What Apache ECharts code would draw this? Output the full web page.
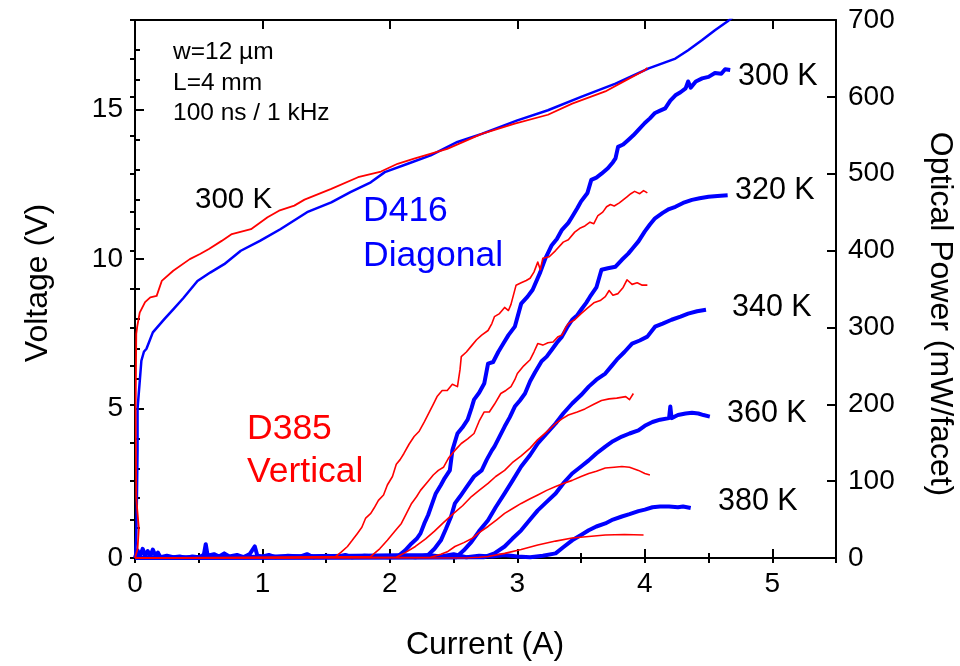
<!DOCTYPE html>
<html>
<head>
<meta charset="utf-8">
<script src="https://cdn.jsdelivr.net/npm/echarts@6/dist/echarts.min.js"></script>
<style>
  html, body { margin: 0; padding: 0; background: #fff; }
  #chart { width: 960px; height: 666px; }
</style>
</head>
<body>
<div id="chart"></div>
<script>
// Tick labels
const currentTickLabels = [0, 1, 2, 3, 4, 5];
const voltageTickLabels = [0, 5, 10, 15];
const powerTickLabels = [0, 100, 200, 300, 400, 500, 600, 700];

// Voltage–current at 300 K  [current (A), voltage (V)]
const d385Voltage = [
  [0, 0], [0.02, 0.3], [0.03, 1.0], [0.01, 2.0], [0.005, 5.0], [0.01, 7.5], [0.018, 7.76],
  [0.037, 8.21], [0.079, 8.56], [0.12, 8.72], [0.17, 8.77], [0.21, 9.27], [0.30, 9.61],
  [0.43, 10.0], [0.51, 10.17], [0.58, 10.34], [0.68, 10.61], [0.76, 10.84], [0.91, 11.0],
  [1.04, 11.4], [1.13, 11.62], [1.25, 11.79], [1.33, 11.99], [1.54, 12.35], [1.75, 12.74],
  [1.93, 12.93], [2.06, 13.19], [2.19, 13.36], [2.45, 13.69], [2.72, 14.19], [2.98, 14.53],
  [3.24, 14.83], [3.43, 15.2], [3.69, 15.61], [3.85, 15.98], [4.0, 16.32], [4.02, 16.4]
];
const d416Voltage = [
  [0, 0], [0.01, 0.8], [0.015, 2.0], [0.02, 3.6], [0.02, 5.0], [0.037, 5.9], [0.05, 6.6],
  [0.07, 6.9], [0.09, 7.0], [0.14, 7.55], [0.23, 7.99], [0.30, 8.32], [0.38, 8.7],
  [0.49, 9.27], [0.59, 9.55], [0.70, 9.83], [0.83, 10.28], [0.98, 10.61], [1.14, 11.0],
  [1.35, 11.57], [1.54, 11.9], [1.69, 12.24], [1.85, 12.57], [1.96, 12.91], [2.14, 13.19],
  [2.32, 13.47], [2.53, 13.92], [2.72, 14.19], [3.0, 14.64], [3.24, 14.98], [3.50, 15.43],
  [3.77, 15.87], [4.03, 16.38], [4.24, 16.71], [4.34, 16.99], [4.45, 17.33], [4.55, 17.66],
  [4.65, 17.96], [4.72, 18.2]
];

// Optical power, D416 diagonal  [current (A), power (mW/facet)]
const d416Power300K = [
  [0, 0], [0.02, 10], [0.04, 2], [0.06, 12], [0.08, 3], [0.10, 9], [0.12, 2], [0.14, 11],
  [0.16, 3], [0.18, 7], [0.20, 1], [0.25, 3], [0.30, 1], [0.35, 2], [0.40, 0], [0.45, 2],
  [0.50, 1], [0.54, 4], [0.555, 18], [0.57, 3], [0.62, 5], [0.66, 2], [0.70, 6], [0.74, 2],
  [0.80, 4], [0.85, 1], [0.90, 5], [0.94, 15], [0.96, 3], [1.0, 2], [1.05, 4], [1.1, 1],
  [1.2, 3], [1.3, 2], [1.35, 5], [1.4, 1], [1.5, 3], [1.6, 2], [1.65, 4], [1.7, 1], [1.8, 3],
  [1.9, 2], [2.0, 1], [2.06, 2], [2.12, 10], [2.17, 19], [2.21, 25], [2.24, 32], [2.27, 45],
  [2.30, 56], [2.33, 70], [2.36, 84], [2.40, 95], [2.43, 104], [2.47, 114], [2.49, 140],
  [2.53, 162], [2.57, 170], [2.61, 180], [2.64, 195], [2.66, 206], [2.70, 215], [2.74, 227],
  [2.77, 253], [2.81, 255], [2.85, 268], [2.89, 279], [2.93, 290], [2.98, 301], [3.03, 331],
  [3.08, 340], [3.12, 349], [3.18, 372], [3.22, 390], [3.27, 407], [3.31, 415], [3.35, 427],
  [3.40, 436], [3.43, 444], [3.47, 455], [3.50, 464], [3.55, 475], [3.58, 492], [3.62, 495],
  [3.66, 500], [3.71, 507], [3.75, 515], [3.77, 520], [3.79, 535], [3.83, 538], [3.87, 544],
  [3.91, 550], [3.95, 557], [4.00, 566], [4.04, 572], [4.08, 579], [4.12, 582], [4.16, 585],
  [4.20, 595], [4.24, 602], [4.28, 606], [4.32, 611], [4.34, 620], [4.36, 612], [4.40, 620],
  [4.45, 624], [4.50, 626], [4.55, 631], [4.60, 630], [4.63, 636], [4.67, 635]
];
const d416Power320K = [
  [0, 0], [2.30, 4], [2.35, 12], [2.40, 23], [2.44, 38], [2.48, 54], [2.51, 71], [2.55, 80],
  [2.60, 92], [2.66, 106], [2.72, 114], [2.76, 128], [2.80, 140], [2.82, 145], [2.86, 158],
  [2.90, 171], [2.94, 183], [2.98, 197], [3.02, 205], [3.06, 214], [3.10, 230], [3.14, 242],
  [3.19, 256], [3.23, 262], [3.27, 271], [3.31, 280], [3.35, 288], [3.39, 300], [3.43, 310],
  [3.47, 316], [3.50, 323], [3.54, 332], [3.57, 340], [3.62, 352], [3.66, 375], [3.71, 377],
  [3.77, 379], [3.82, 388], [3.87, 396], [3.91, 404], [3.95, 412], [4.0, 425], [4.04, 434],
  [4.08, 442], [4.14, 449], [4.19, 454], [4.24, 457], [4.30, 462], [4.37, 466], [4.43, 468],
  [4.50, 470], [4.57, 471], [4.65, 472]
];
const d416Power340K = [
  [0, 0], [2.52, 1], [2.58, 10], [2.64, 21], [2.70, 35], [2.77, 49], [2.83, 66], [2.90, 84],
  [2.96, 100], [3.03, 119], [3.10, 134], [3.16, 149], [3.23, 162], [3.30, 175], [3.36, 188],
  [3.43, 201], [3.50, 212], [3.56, 223], [3.62, 232], [3.69, 240], [3.74, 250], [3.78, 258],
  [3.84, 268], [3.90, 279], [3.96, 283], [4.02, 288], [4.08, 301], [4.14, 305], [4.21, 310],
  [4.28, 314], [4.34, 318], [4.41, 321], [4.48, 323]
];
const d416Power360K = [
  [0, 0], [2.74, 1], [2.82, 6], [2.90, 15], [2.96, 25], [3.03, 36], [3.10, 50], [3.16, 62],
  [3.23, 73], [3.30, 84], [3.36, 97], [3.43, 110], [3.50, 119], [3.56, 127], [3.62, 136],
  [3.69, 145], [3.75, 152], [3.82, 158], [3.88, 162], [3.95, 166], [4.0, 172], [4.06, 177],
  [4.12, 180], [4.19, 182], [4.20, 197], [4.21, 182], [4.26, 186], [4.32, 188], [4.37, 189],
  [4.42, 188], [4.46, 186], [4.51, 184]
];
const d416Power380K = [
  [0, 0], [2.1, 3], [2.2, 1], [2.3, 4], [2.4, 2], [2.5, 5], [2.6, 1], [2.7, 3], [2.8, 2],
  [2.9, 4], [3.0, 2], [3.10, 1], [3.20, 3], [3.30, 6], [3.36, 14], [3.43, 23], [3.50, 30],
  [3.56, 36], [3.62, 41], [3.69, 45], [3.75, 50], [3.82, 54], [3.88, 57], [3.95, 61],
  [4.0, 63], [4.06, 66], [4.12, 67], [4.19, 67], [4.26, 66], [4.30, 67], [4.36, 65]
];

// Optical power, D385 vertical
const d385Power300K = [
  [0, 0], [1.2, 0], [1.575, 2], [1.62, 8], [1.667, 15], [1.70, 22], [1.745, 32], [1.78, 40],
  [1.81, 52], [1.85, 58], [1.876, 65], [1.91, 75], [1.95, 82], [1.98, 95], [2.02, 106],
  [2.05, 122], [2.08, 128], [2.11, 136], [2.15, 148], [2.19, 158], [2.23, 165], [2.27, 177],
  [2.31, 190], [2.34, 200], [2.37, 210], [2.41, 218], [2.45, 218], [2.49, 226], [2.53, 223],
  [2.55, 245], [2.56, 262], [2.60, 268], [2.64, 276], [2.68, 284], [2.72, 290], [2.77, 296],
  [2.80, 305], [2.82, 314], [2.86, 318], [2.90, 326], [2.93, 322], [2.95, 330], [2.99, 355],
  [3.03, 358], [3.07, 361], [3.10, 364], [3.13, 372], [3.16, 385], [3.18, 375], [3.20, 390],
  [3.25, 392], [3.30, 400], [3.36, 411], [3.40, 414], [3.45, 424], [3.49, 429], [3.53, 432],
  [3.57, 437], [3.60, 435], [3.63, 445], [3.67, 450], [3.70, 457], [3.73, 460], [3.76, 458],
  [3.80, 462], [3.83, 466], [3.86, 470], [3.89, 474], [3.92, 477], [3.96, 474], [3.99, 478],
  [4.02, 475]
];
const d385Power320K = [
  [0, 0], [1.85, 2], [1.92, 12], [1.98, 23], [2.04, 35], [2.09, 45], [2.13, 58], [2.17, 71],
  [2.21, 80], [2.24, 88], [2.30, 100], [2.34, 108], [2.38, 114], [2.42, 118], [2.46, 130],
  [2.51, 140], [2.56, 149], [2.61, 155], [2.66, 162], [2.70, 178], [2.74, 190], [2.78, 190],
  [2.82, 200], [2.87, 214], [2.91, 218], [2.95, 223], [2.98, 232], [3.0, 240], [3.05, 250],
  [3.10, 258], [3.13, 268], [3.16, 279], [3.20, 277], [3.24, 280], [3.28, 281], [3.32, 288],
  [3.35, 290], [3.38, 300], [3.40, 305], [3.45, 310], [3.50, 318], [3.55, 325], [3.60, 332],
  [3.65, 335], [3.69, 340], [3.72, 348], [3.75, 342], [3.79, 344], [3.83, 352], [3.86, 362],
  [3.90, 356], [3.94, 358], [3.98, 355], [4.02, 355]
];
const d385Power340K = [
  [0, 0], [2.05, 1], [2.12, 7], [2.20, 15], [2.28, 25], [2.35, 35], [2.42, 46], [2.50, 58],
  [2.57, 68], [2.64, 80], [2.70, 88], [2.77, 97], [2.83, 106], [2.90, 114], [2.96, 124],
  [3.03, 133], [3.10, 143], [3.16, 154], [3.23, 164], [3.30, 175], [3.35, 181], [3.40, 186],
  [3.47, 190], [3.53, 194], [3.60, 200], [3.66, 205], [3.72, 207], [3.78, 208], [3.85, 210],
  [3.88, 206], [3.91, 214]
];
const d385Power360K = [
  [0, 0], [2.32, 1], [2.40, 5], [2.45, 8], [2.51, 15], [2.58, 20], [2.64, 25], [2.70, 33],
  [2.77, 41], [2.84, 50], [2.90, 58], [2.97, 65], [3.03, 71], [3.10, 77], [3.16, 82],
  [3.23, 88], [3.30, 93], [3.36, 97], [3.43, 101], [3.50, 106], [3.56, 110], [3.62, 113],
  [3.69, 117], [3.76, 118], [3.82, 119], [3.88, 118], [3.95, 114], [4.0, 110], [4.04, 108]
];
const d385Power380K = [
  [0, 0], [2.60, 0], [2.70, 1], [2.77, 2], [2.90, 6], [3.03, 11], [3.16, 17], [3.30, 22],
  [3.43, 26], [3.56, 28], [3.69, 30], [3.84, 30.5], [3.99, 30]
];

const FONT = "'Liberation Sans', Arial, Helvetica, sans-serif";
const RED = '#ff0000';
const BLUE = '#0000ff';

function axisBase(extra) {
  return Object.assign({
    type: 'value',
    splitLine: { show: false },
    axisLine: { show: false },
    axisLabel: { show: false },
    axisTick: { show: true, inside: true, length: 5, lineStyle: { color: '#000', width: 2 } }
  }, extra);
}
const frameLine = { show: true, onZero: false, lineStyle: { color: '#000', width: 2 } };
const majorTick = { show: true, inside: true, length: 9, lineStyle: { color: '#000', width: 2 } };
const labelStyle = { color: '#000', fontSize: 28, fontFamily: FONT };

const chart = echarts.init(document.getElementById('chart'), null, { renderer: 'canvas' });

const option = {
  animation: false,
  backgroundColor: '#fff',
  grid: { left: 135, right: 124, top: 20, bottom: 108, containLabel: false, outerBoundsMode: 'none' },
  xAxis: [
    axisBase({
      position: 'bottom', min: 0, max: 5.5, interval: 1,
      axisLine: frameLine, axisTick: majorTick,
      axisLabel: Object.assign({
        show: true, margin: 12, showMaxLabel: false,
        formatter: v => currentTickLabels.includes(v) ? String(v) : ''
      }, labelStyle)
    }),
    axisBase({ position: 'bottom', min: 0, max: 5.5, interval: 0.5 }),
    axisBase({ position: 'top', min: 0, max: 5.5, interval: 1, axisLine: frameLine, axisTick: majorTick }),
    axisBase({ position: 'top', min: 0, max: 5.5, interval: 0.5 })
  ],
  yAxis: [
    axisBase({
      position: 'left', min: 0, max: 18, interval: 5,
      axisLine: frameLine, axisTick: majorTick,
      axisLabel: Object.assign({
        show: true, margin: 12, showMaxLabel: false,
        formatter: v => voltageTickLabels.includes(v) ? String(v) : ''
      }, labelStyle)
    }),
    axisBase({ position: 'left', min: 0, max: 18, interval: 1 }),
    axisBase({
      position: 'right', min: 0, max: 700, interval: 100,
      axisLine: frameLine, axisTick: majorTick,
      axisLabel: Object.assign({
        show: true, margin: 12,
        formatter: v => powerTickLabels.includes(v) ? String(v) : ''
      }, labelStyle)
    }),
    axisBase({ position: 'right', min: 0, max: 700, interval: 50 })
  ],
  series: []
};

function lineSeries(name, data, yIdx, color, width, z) {
  return {
    name, type: 'line', data, xAxisIndex: 0, yAxisIndex: yIdx,
    showSymbol: false, symbol: 'none', clip: true, silent: true, z,
    lineStyle: { color, width, join: 'round' }
  };
}

option.series.push(
  lineSeries('D416 V', d416Voltage, 0, BLUE, 2.5, 3),
  lineSeries('D385 V', d385Voltage, 0, RED, 1.8, 4),
  lineSeries('D416 300 K', d416Power300K, 2, BLUE, 4, 2),
  lineSeries('D416 320 K', d416Power320K, 2, BLUE, 4, 2),
  lineSeries('D416 340 K', d416Power340K, 2, BLUE, 4, 2),
  lineSeries('D416 360 K', d416Power360K, 2, BLUE, 4, 2),
  lineSeries('D416 380 K', d416Power380K, 2, BLUE, 4, 2),
  lineSeries('D385 300 K', d385Power300K, 2, RED, 1.6, 4),
  lineSeries('D385 320 K', d385Power320K, 2, RED, 1.6, 4),
  lineSeries('D385 340 K', d385Power340K, 2, RED, 1.6, 4),
  lineSeries('D385 360 K', d385Power360K, 2, RED, 1.6, 4),
  lineSeries('D385 380 K', d385Power380K, 2, RED, 1.6, 4)
);

function txt(text, x, y, size, color, opts) {
  return Object.assign({
    type: 'text', x, y, silent: true, z: 10,
    style: Object.assign({
      text, fill: color, fontSize: size, fontFamily: FONT,
      align: 'left', verticalAlign: 'middle'
    }, (opts && opts.style) || {})
  }, (opts && opts.el) || {});
}

option.graphic = [
  txt('w=12 µm', 173, 52, 24.5, '#000'),
  txt('L=4 mm', 173, 83, 24.5, '#000'),
  txt('100 ns / 1 kHz', 173, 113, 24.5, '#000'),
  txt('300 K', 195, 200, 29.5, '#000'),
  txt('D416', 363, 211, 35.5, BLUE),
  txt('Diagonal', 363, 256, 35.5, BLUE),
  txt('D385', 247, 429, 35.5, RED),
  txt('Vertical', 247, 472, 35.5, RED),
  txt('300 K', 738, 77, 30.5, '#000'),
  txt('320 K', 735, 191, 30.5, '#000'),
  txt('340 K', 732, 308, 30.5, '#000'),
  txt('360 K', 727, 414, 30.5, '#000'),
  txt('380 K', 718, 502, 30.5, '#000'),
  txt('Current (A)', 485, 645, 32, '#000', { style: { align: 'center' } }),
  txt('Voltage (V)', 38, 283, 32, '#000', { style: { align: 'center' }, el: { rotation: Math.PI / 2 } }),
  txt('Optical Power (mW/facet)', 940, 314, 32, '#000', { style: { align: 'center' }, el: { rotation: -Math.PI / 2 } })
];

chart.setOption(option);
</script>
</body>
</html>
